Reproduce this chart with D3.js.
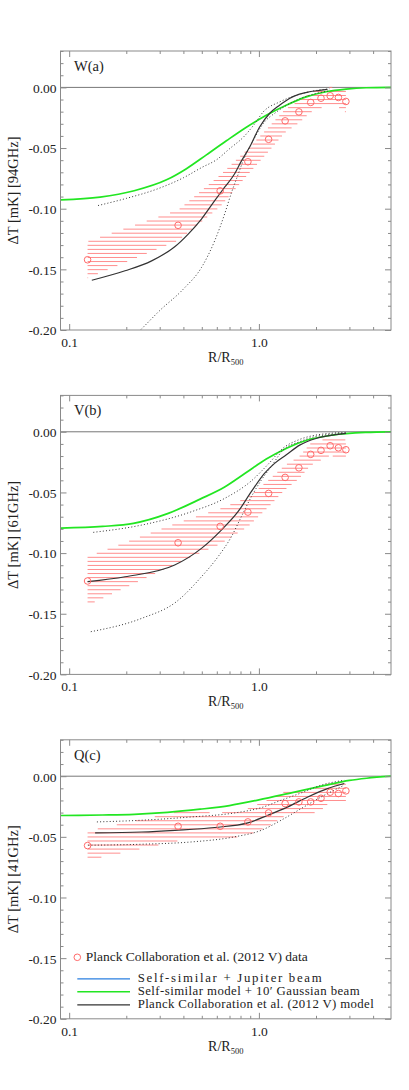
<!DOCTYPE html>
<html><head><meta charset="utf-8">
<script src="https://cdn.jsdelivr.net/npm/d3@7"></script>
<style>
body{margin:0;background:#fff}
svg{display:block}
text{font-family:"Liberation Serif","Times New Roman",serif;fill:#222}
</style>
</head><body>
<svg id="c" width="409" height="1090"></svg>
<script>
// ---------- DATA ----------
const radii = [0.125, 0.375, 0.625, 0.875, 1.125, 1.375, 1.625, 1.875, 2.125, 2.375, 2.625, 2.875];
const xTickMajor = [0.1, 1.0];
const xTickLabels = ["0.1", "1.0"];
const xTickMinor = [0.2,0.3,0.4,0.5,0.6,0.7,0.8,0.9,2,3,4];
const yTickMajor = [-0.20,-0.15,-0.10,-0.05,0.00];
const yTickMinor = [-0.19,-0.18,-0.17,-0.16,-0.14,-0.13,-0.12,-0.11,-0.09,-0.08,-0.07,-0.06,-0.04,-0.03,-0.02,-0.01,0.01,0.02,0.03];
const panelLabels = ["W(a)", "V(b)", "Q(c)"];
const freqLabels = ["[94GHz]", "[61GHz]", "[41GHz]"];
const legendLabels = ["Planck Collaboration et al. (2012 V) data", "Self-similar + Jupiter beam", "Self-similar model + 10\u2032 Gaussian beam", "Planck Collaboration et al. (2012 V) model"];

// Planck data points and error half-widths
const W_T   = [-0.1421,-0.1137,-0.0853,-0.0613,-0.0428,-0.0276,-0.0202,-0.0124,-0.0089,-0.0069,-0.0083,-0.0116];
const W_err = [0.015,0.0125,0.013,0.0105,0.010,0.0095,0.009,0.008,0.008,0.007,0.008,0.009];
const V_T   = [-0.1230,-0.0915,-0.0780,-0.0662,-0.0508,-0.0376,-0.0297,-0.0186,-0.0153,-0.0115,-0.0132,-0.0148];
const V_err = [0.020,0.0165,0.0145,0.012,0.011,0.010,0.009,0.009,0.008,0.008,0.008,0.008];
const Q_T   = [-0.0572,-0.0413,-0.0413,-0.0377,-0.0303,-0.0226,-0.0212,-0.0212,-0.0182,-0.0132,-0.0143,-0.0121];
const Q_err = [0.012,0.012,0.011,0.011,0.011,0.010,0.010,0.010,0.010,0.008,0.008,0.008];

// Self-similar model + 10' Gaussian beam (green)
const W_green = [[0.0904,-0.0927],[0.1455,-0.0905],[0.22,-0.0852],[0.326,-0.0762],[0.415,-0.0670],[0.529,-0.0556],[0.674,-0.0440],[0.859,-0.0328],[1.094,-0.0229],[1.393,-0.0147],[1.776,-0.0078],[2.263,-0.0036],[2.883,-0.0014],[3.673,-0.0003],[4.97,0]];
const V_green = [[0.0904,-0.0794],[0.15,-0.078],[0.218,-0.0755],[0.33,-0.0675],[0.49,-0.0555],[0.66,-0.0455],[0.85,-0.034],[1.094,-0.0225],[1.4,-0.0135],[1.8,-0.0068],[2.45,-0.0027],[3.67,-0.0005],[4.97,0]];
const Q_green = [[0.0904,-0.0324],[0.15,-0.0320],[0.22,-0.0314],[0.33,-0.0298],[0.49,-0.0272],[0.70,-0.0242],[1.0,-0.0195],[1.5,-0.0135],[2.2,-0.0078],[3.0,-0.0035],[3.7,-0.0017],[4.97,0]];

// Planck Collaboration (2012 V) model (black solid)
const W_model = [[0.1316,-0.159],[0.197,-0.1512],[0.272,-0.143],[0.360,-0.1314],[0.424,-0.1209],[0.498,-0.1085],[0.585,-0.0933],[0.660,-0.0823],[0.745,-0.0712],[0.80,-0.062],[0.894,-0.0492],[1.009,-0.0326],[1.138,-0.0215],[1.285,-0.0147],[1.449,-0.0091],[1.636,-0.0055],[1.846,-0.0036],[2.085,-0.0025],[2.30,-0.0017]];
const V_model = [[0.125,-0.1236],[0.197,-0.1195],[0.36,-0.1098],[0.498,-0.0961],[0.634,-0.081],[0.776,-0.0659],[0.912,-0.0494],[1.07,-0.0343],[1.21,-0.026],[1.39,-0.0192],[1.64,-0.011],[2.0,-0.0055],[2.45,-0.0027],[2.88,-0.0013]];
const Q_model = [[0.137,-0.0468],[0.241,-0.046],[0.361,-0.0446],[0.585,-0.0423],[0.875,-0.0385],[1.115,-0.0322],[1.42,-0.0253],[1.81,-0.0171],[2.30,-0.0102],[2.82,-0.006]];

// model bounds (black dotted)
const W_dotHi = [[0.142,-0.0974],[0.20,-0.0915],[0.294,-0.0835],[0.40,-0.0745],[0.50,-0.066],[0.60,-0.0595],[0.70,-0.0506],[0.83,-0.0409],[0.95,-0.030],[1.054,-0.0202],[1.29,-0.0119],[1.58,-0.0064],[1.93,-0.003],[2.35,-0.0012]];
const W_dotLo = [[0.22,-0.205],[0.241,-0.199],[0.30,-0.184],[0.399,-0.1664],[0.498,-0.1485],[0.585,-0.1264],[0.660,-0.1043],[0.716,-0.087],[0.776,-0.072],[0.824,-0.061],[0.933,-0.0437],[1.054,-0.0298],[1.24,-0.0202],[1.58,-0.0105],[2.0,-0.005],[2.37,-0.0028]];
const V_dotHi = [[0.134,-0.0829],[0.241,-0.0769],[0.441,-0.0659],[0.66,-0.0549],[0.912,-0.0405],[1.115,-0.027],[1.34,-0.0135],[1.64,-0.0063],[2.0,-0.0027],[2.88,-0.0005]];
const V_dotLo = [[0.130,-0.1648],[0.241,-0.1538],[0.368,-0.140],[0.498,-0.1195],[0.609,-0.103],[0.716,-0.0865],[0.808,-0.07],[0.912,-0.0536],[1.03,-0.0398],[1.16,-0.0288],[1.34,-0.0151],[1.64,-0.0082],[2.0,-0.0038],[2.88,-0.0013]];
const Q_dotHi = [[0.140,-0.0377],[0.241,-0.0363],[0.441,-0.0336],[0.745,-0.0303],[1.03,-0.0259],[1.31,-0.0198],[1.67,-0.0138],[2.13,-0.0074],[2.82,-0.0033]];
const Q_dotLo = [[0.126,-0.0569],[0.241,-0.0561],[0.441,-0.0542],[0.745,-0.050],[1.03,-0.0446],[1.31,-0.0363],[1.67,-0.0267],[2.13,-0.0171],[2.82,-0.0074]];

// ---------- DRAW ----------
const svg = d3.select("#c");
const left = 60.5, right = 391, H = 279, tops = [51, 395.4, 739.8];
const x = d3.scaleLog().domain([0.09, 4.97]).range([left, right]);
const panels = [
  {vals:W_T, err:W_err, green:W_green, model:W_model, hi:W_dotHi, lo:W_dotLo},
  {vals:V_T, err:V_err, green:V_green, model:V_model, hi:V_dotHi, lo:V_dotLo},
  {vals:Q_T, err:Q_err, green:Q_green, model:Q_model, hi:Q_dotHi, lo:Q_dotLo}
];
const GRAY = "#8a8a8a";
const RED = "#ff6a6a";

panels.forEach((p, i) => {
  const top = tops[i];
  const y = d3.scaleLinear().domain([-0.2, 0.03]).range([top + H, top]);
  const g = svg.append("g");
  const cid = "clip" + i;
  svg.append("clipPath").attr("id", cid).append("rect")
    .attr("x", left).attr("y", top).attr("width", right - left).attr("height", H);
  const pg = g.append("g").attr("clip-path", `url(#${cid})`);

  // zero line
  pg.append("line").attr("x1", left).attr("x2", right).attr("y1", y(0)).attr("y2", y(0))
    .attr("stroke", "#777").attr("stroke-width", 1);

  // hatched error band (horizontal line fill)
  const poly = [];
  radii.forEach((r, j) => poly.push([x(r), y(p.vals[j] + p.err[j])]));
  for (let j = radii.length - 1; j >= 0; j--) poly.push([x(radii[j]), y(p.vals[j] - p.err[j])]);
  const sp = 4.05;
  const segs = [];
  for (let yy = y(0) - sp * Math.floor((y(0) - top) / sp); yy <= top + H; yy += sp) {
    const xs = [];
    for (let k = 0; k < poly.length; k++) {
      const [x1, y1] = poly[k], [x2, y2] = poly[(k + 1) % poly.length];
      if ((y1 <= yy && y2 > yy) || (y2 <= yy && y1 > yy)) xs.push(x1 + (yy - y1) * (x2 - x1) / (y2 - y1));
    }
    xs.sort((a, b) => a - b);
    for (let k = 0; k + 1 < xs.length; k += 2) segs.push([xs[k], xs[k + 1], yy]);
  }
  pg.selectAll("line.h").data(segs).join("line").attr("class", "h")
    .attr("x1", d => d[0]).attr("x2", d => d[1]).attr("y1", d => d[2]).attr("y2", d => d[2])
    .attr("stroke", "#ff7a7a").attr("stroke-opacity", 0.85).attr("stroke-width", 1);

  const line = d3.line().x(d => x(d[0])).y(d => y(d[1])).curve(d3.curveMonotoneX);
  // green
  pg.append("path").attr("d", line(p.green)).attr("fill", "none")
    .attr("stroke", "#22e622").attr("stroke-width", 1.7);
  // dotted
  [p.hi, p.lo].forEach(arr => pg.append("path").attr("d", line(arr)).attr("fill", "none")
    .attr("stroke", "#333").attr("stroke-width", 1).attr("stroke-dasharray", "1 2.2"));
  // model
  pg.append("path").attr("d", line(p.model)).attr("fill", "none")
    .attr("stroke", "#333").attr("stroke-width", 1.2);
  // data circles
  pg.selectAll("circle.d").data(radii).join("circle").attr("class", "d")
    .attr("cx", d => x(d)).attr("cy", (d, j) => y(p.vals[j])).attr("r", 3.3)
    .attr("fill", "none").attr("stroke", RED).attr("stroke-width", 1);

  // frame
  g.append("rect").attr("x", left).attr("y", top).attr("width", right - left).attr("height", H)
    .attr("fill", "none").attr("stroke", GRAY).attr("stroke-width", 1);

  // axes ticks
  const styleAx = sel => { sel.select(".domain").remove(); sel.selectAll("line").attr("stroke", GRAY); };
  g.append("g").attr("transform", `translate(0,${top + H})`)
    .call(d3.axisBottom(x).tickValues(xTickMajor).tickSize(-6).tickFormat((d, k) => xTickLabels[k]))
    .call(styleAx)
    .call(s => s.selectAll("text").attr("y", 17).attr("dy", 0).attr("font-size", 13.5)
      .attr("font-family", '"Liberation Serif",serif').attr("fill", "#222"));
  g.append("g").attr("transform", `translate(0,${top + H})`)
    .call(d3.axisBottom(x).tickValues(xTickMinor).tickSize(-3).tickFormat("")).call(styleAx);
  g.append("g").attr("transform", `translate(0,${top})`)
    .call(d3.axisTop(x).tickValues(xTickMajor).tickSize(-6).tickFormat("")).call(styleAx);
  g.append("g").attr("transform", `translate(0,${top})`)
    .call(d3.axisTop(x).tickValues(xTickMinor).tickSize(-3).tickFormat("")).call(styleAx);
  g.append("g").attr("transform", `translate(${left},0)`)
    .call(d3.axisLeft(y).tickValues(yTickMajor).tickSize(-6).tickPadding(4).tickFormat(d => d.toFixed(2)))
    .call(styleAx)
    .call(s => s.selectAll("text").attr("x", -4).attr("dy", "0.36em").attr("font-size", 13.5)
      .attr("font-family", '"Liberation Serif",serif').attr("fill", "#222"));
  g.append("g").attr("transform", `translate(${left},0)`)
    .call(d3.axisLeft(y).tickValues(yTickMinor).tickSize(-3).tickFormat("")).call(styleAx);
  g.append("g").attr("transform", `translate(${right},0)`)
    .call(d3.axisRight(y).tickValues(yTickMajor).tickSize(-6).tickFormat("")).call(styleAx);
  g.append("g").attr("transform", `translate(${right},0)`)
    .call(d3.axisRight(y).tickValues(yTickMinor).tickSize(-3).tickFormat("")).call(styleAx);

  // panel label
  g.append("text").attr("x", 74).attr("y", top + 19.7).attr("font-size", 14.5).text(panelLabels[i]);

  // y label
  g.append("text").attr("transform", `translate(18.3,${top + H / 2}) rotate(-90)`)
    .attr("text-anchor", "middle").attr("font-size", 14.5)
    .text("\u0394T [mK] " + freqLabels[i]);

  // x label
  const xl = g.append("text").attr("x", (left + right) / 2).attr("y", top + H + 31.7)
    .attr("text-anchor", "middle").attr("font-size", 14);
  xl.append("tspan").text("R/R");
  xl.append("tspan").attr("font-size", 8.5).attr("dy", 3).text("500");

  // legend in last panel
  if (i === 2) {
    const lg = g.append("g");
    lg.append("circle").attr("cx", 77.3).attr("cy", top + 217.5).attr("r", 3.3)
      .attr("fill", "none").attr("stroke", RED).attr("stroke-width", 1);
    lg.append("text").attr("x", 85.7).attr("y", top + 221.5).attr("font-size", 13.5).text(legendLabels[0]);
    const cols = ["#2a7fe0", "#22e622", "#333"];
    [0, 1, 2].forEach(k => {
      const yy = top + 239 + k * 13;
      lg.append("line").attr("x1", 77.3).attr("x2", 130).attr("y1", yy).attr("y2", yy)
        .attr("stroke", cols[k]).attr("stroke-width", k === 1 ? 1.5 : 1.2);
      lg.append("text").attr("x", 137.7).attr("y", yy + 3.5).attr("font-size", 12.8)
        .attr("textLength", [184, 222, 236][k]).attr("lengthAdjust", "spacing")
        .text(legendLabels[k + 1]);
    });
  }
});
</script>
</body></html>
